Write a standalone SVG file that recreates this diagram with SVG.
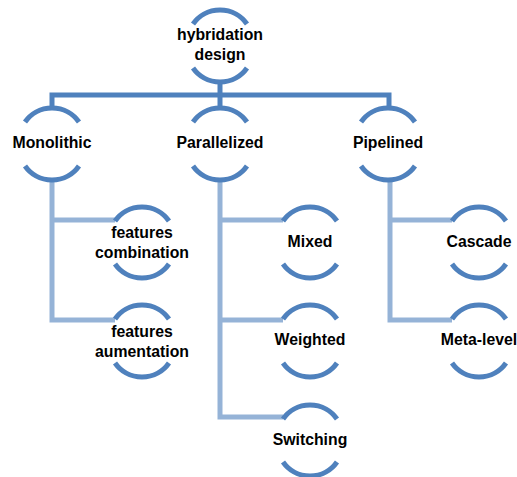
<svg xmlns="http://www.w3.org/2000/svg" width="517" height="477" viewBox="0 0 517 477">
<style>
.arc{fill:none;stroke:#4F81BD;stroke-width:5}
.c1{fill:none;stroke:#4F81BD;stroke-width:5}
.c2{fill:none;stroke:#95B3D7;stroke-width:5}
text{font-family:"Liberation Sans",Arial,sans-serif;font-weight:bold;font-size:15.8px;fill:#000;text-anchor:middle}
</style>
<defs>
<path id="ta" class="arc" d="M-27,13 A33 33 0 0 1 27,13"/>
<path id="ba" class="arc" d="M-27,-13 A33 33 0 0 0 27,-13"/>
</defs>
<g id="connectors">
<path class="c1" d="M52,109 V95 H389 V109 M220,81 V109"/>
<path class="c2" d="M52,179 V320 H115 M52,220 H115"/>
<path class="c2" d="M220,179 V417 H283 M220,220 H283 M220,320 H283"/>
<path class="c2" d="M390,179 V320 H452 M390,220 H452"/>
</g>
<g id="root">
<use href="#ta" x="220" y="11"/><use href="#ba" x="220" y="81"/>
<text x="220" y="40">hybridation</text><text x="220" y="60">design</text>
</g>
<g id="monolithic">
<use href="#ta" x="52" y="109"/><use href="#ba" x="52" y="179"/>
<text x="52" y="148">Monolithic</text>
</g>
<g id="parallelized">
<use href="#ta" x="220" y="109"/><use href="#ba" x="220" y="179"/>
<text x="220" y="148">Parallelized</text>
</g>
<g id="pipelined">
<use href="#ta" x="388" y="109"/><use href="#ba" x="388" y="179"/>
<text x="388" y="148">Pipelined</text>
</g>
<g id="features-combination">
<use href="#ta" x="142" y="208"/><use href="#ba" x="142" y="277"/>
<text x="142" y="238">features</text><text x="142" y="258">combination</text>
</g>
<g id="features-aumentation">
<use href="#ta" x="142" y="306"/><use href="#ba" x="142" y="376"/>
<text x="142" y="337">features</text><text x="142" y="357">aumentation</text>
</g>
<g id="mixed">
<use href="#ta" x="310" y="208"/><use href="#ba" x="310" y="277"/>
<text x="310" y="247">Mixed</text>
</g>
<g id="weighted">
<use href="#ta" x="310" y="306"/><use href="#ba" x="310" y="376"/>
<text x="310" y="345">Weighted</text>
</g>
<g id="switching">
<use href="#ta" x="310" y="406"/><use href="#ba" x="310" y="475"/>
<text x="310" y="445">Switching</text>
</g>
<g id="cascade">
<use href="#ta" x="479" y="208"/><use href="#ba" x="479" y="277"/>
<text x="479" y="247">Cascade</text>
</g>
<g id="meta-level">
<use href="#ta" x="479" y="306"/><use href="#ba" x="479" y="376"/>
<text x="479" y="345">Meta-level</text>
</g>
</svg>
